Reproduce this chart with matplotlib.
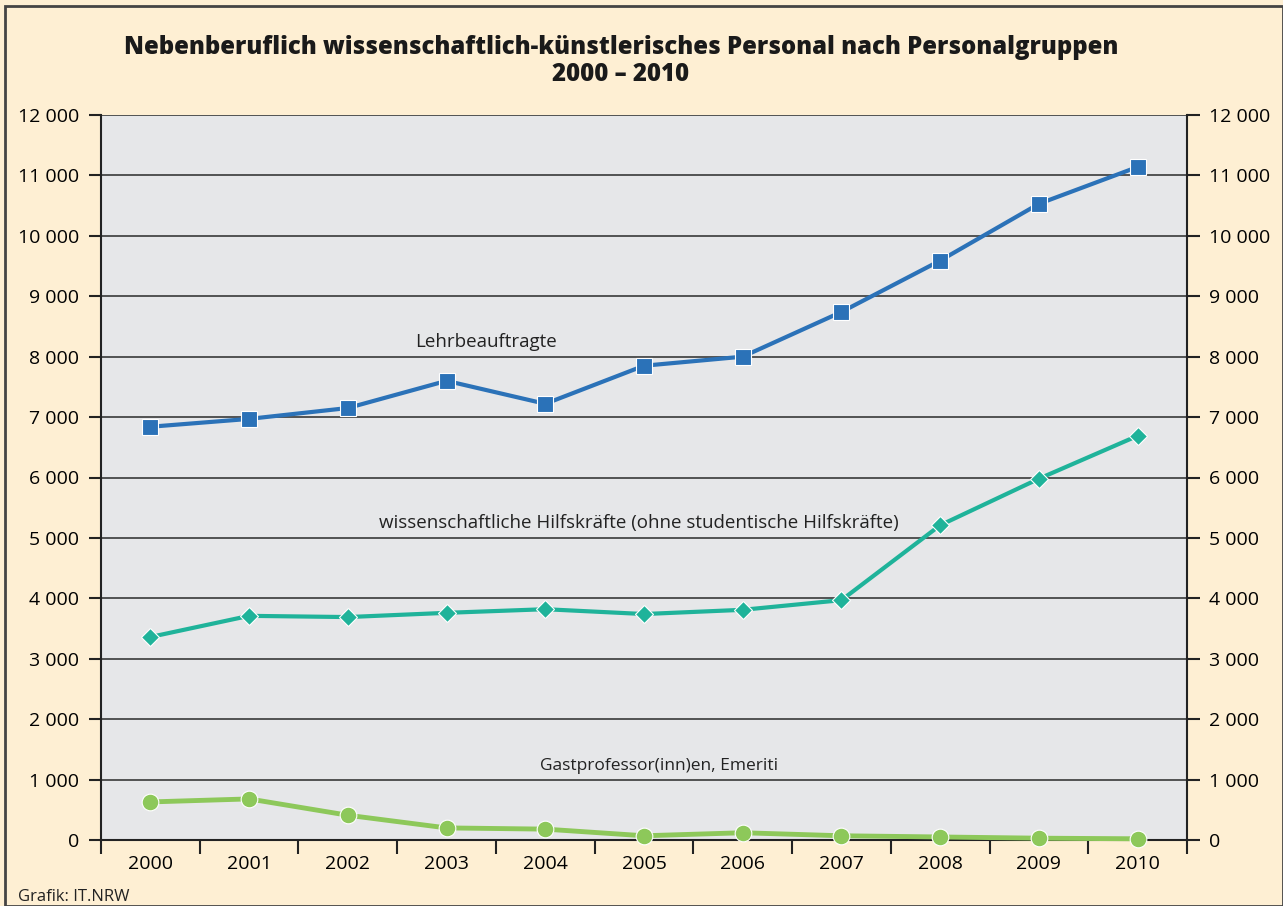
import numpy as np
import matplotlib
matplotlib.use('Agg')
import matplotlib.pyplot as plt
from matplotlib.patches import Rectangle

plt.rcParams['font.family'] = ['Open Sans', 'DejaVu Sans']

years = ['2000', '2001', '2002', '2003', '2004', '2005', '2006', '2007', '2008', '2009', '2010']
lehrbeauftragte = [6840, 6970, 7150, 7600, 7220, 7850, 8000, 8740, 9590, 10530, 11140]
hilfskraefte = [3360, 3710, 3690, 3760, 3820, 3740, 3810, 3970, 5210, 5980, 6690]
gastprof = [630, 680, 410, 200, 180, 70, 120, 70, 50, 30, 20]
yticks = np.arange(0, 12001, 1000)
ytick_labels = [f"{v:,}".replace(',', ' ') for v in yticks]

BG = '#FEEFD3'
PLOT_BG = '#E6E7E9'
C_BLUE = '#2B72B8'
C_TEAL = '#1FB39A'
C_GREEN = '#8DC85A'

fig = plt.figure(figsize=(12.83, 9.06), dpi=100, facecolor=BG)
ax = fig.add_axes([101 / 1283, 1 - 840 / 906, 1086 / 1283, 725 / 906])
ax.set_facecolor(PLOT_BG)

x = np.arange(len(years)) + 0.5
ax.plot(x, lehrbeauftragte, color=C_BLUE, lw=3, marker='s', ms=11,
        mec='white', mew=0.8, zorder=4, clip_on=False)
ax.plot(x, hilfskraefte, color=C_TEAL, lw=3, marker='D', ms=9,
        mec='white', mew=0.8, zorder=4, clip_on=False)
ax.plot(x, gastprof, color=C_GREEN, lw=3.5, marker='o', ms=12,
        mec='white', mew=0.8, zorder=4, clip_on=False)

ax.set_xlim(0, len(years))
ax.set_ylim(0, 12000)
for v in yticks[1:]:
    ax.axhline(v, color='#2a2a2a', lw=1.1, zorder=1)

ax.set_yticks(yticks)
ax.set_yticklabels(ytick_labels)
ax.tick_params(axis='y', which='both', direction='out', length=9, width=1.5,
               color='#222', labelsize=14, left=True, right=True,
               labelleft=True, labelright=True, pad=7)
ax.set_xticks(np.arange(len(years) + 1))
ax.set_xticklabels([])
ax.set_xticks(x, minor=True)
ax.set_xticklabels(years, minor=True)
ax.tick_params(axis='x', which='major', direction='out', length=10, width=1.5, color='#222')
ax.tick_params(axis='x', which='minor', length=0, labelsize=14, pad=11)

for s in ['left', 'right', 'bottom']:
    ax.spines[s].set_color('#222')
    ax.spines[s].set_linewidth(1.5)
ax.spines['top'].set_visible(False)

ax.text(3.9, 8240, 'Lehrbeauftragte', fontsize=13.5, ha='center', va='center', color='#222')
ax.text(5.45, 5250, 'wissenschaftliche Hilfskräfte (ohne studentische Hilfskräfte)',
        fontsize=13.5, ha='center', va='center', color='#222')
ax.text(5.65, 1230, 'Gastprofessor(inn)en, Emeriti', fontsize=12.5, ha='center',
        va='center', color='#222')

fig.text(621 / 1283, 1 - 61 / 906, 'Nebenberuflich wissenschaftlich-künstlerisches Personal nach Personalgruppen\n2000 – 2010',
         ha='center', va='center', fontsize=17.2, fontweight='heavy', color='#1a1a1a', linespacing=1.15)
fig.text(18 / 1283, 1 - 897 / 906, 'Grafik: IT.NRW', ha='left', va='center', fontsize=12, color='#222')

fig.patches.append(Rectangle((5 / 1283, 0), 1 - 5 / 1283, 1 - 6 / 906, transform=fig.transFigure,
                             fill=False, ec='#444', lw=2, zorder=10))

fig.savefig('out.png', dpi=100, facecolor=BG)
